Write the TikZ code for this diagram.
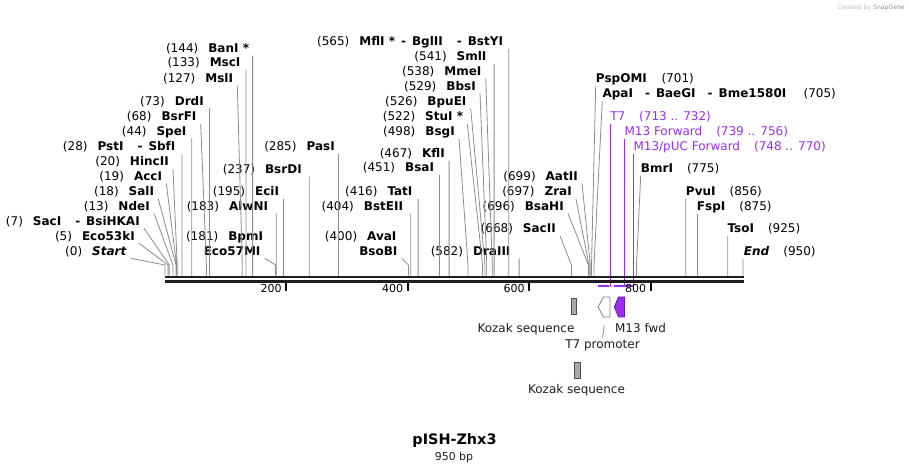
\documentclass[tikz,border=0pt]{standalone}
\usepackage{fontspec}
\setmainfont{DejaVu Sans}
\usepackage{tikz}
\definecolor{primer}{RGB}{157,44,238}
\definecolor{primerline}{RGB}{105,25,175}
\definecolor{cutgray}{RGB}{140,140,140}
\definecolor{kozakgray}{RGB}{166,168,172}
\definecolor{spine}{RGB}{30,30,30}
\newcommand{\lgap}{\hspace{7.5pt}}
\newcommand{\rgap}{\hspace{10.5pt}}

\begin{document}
\begin{tikzpicture}[x=0.75pt,y=-0.75pt,font=\fontsize{9}{10}\selectfont]
\tikzstyle{lsite}=[anchor=east, inner xsep=3pt, inner ysep=0.6pt, text height=6.8pt, text depth=1.6pt]
\tikzstyle{rsite}=[anchor=west, inner xsep=0pt, inner ysep=0.6pt, text height=6.8pt, text depth=1.6pt]
\tikzstyle{oligo}=[rsite, text=primer]
\tikzstyle{cut}=[draw=cutgray, line width=0.6pt]
\tikzstyle{oligoline}=[draw=primer, line width=1pt]
\tikzstyle{feature}=[inner sep=1pt, text=spine]
\tikzstyle{tick}=[inner sep=1pt, anchor=east, font=\fontsize{8.3}{9}\selectfont]

\useasboundingbox (0,0) rectangle (909,473);

% sites on the map, 0..950 bp
\coordinate (bbtop) at (0,275.6);
\coordinate (s0) at (165,265);     \coordinate (s5) at (168,265);     \coordinate (s7) at (169.3,265);
\coordinate (s13) at (172.9,265);  \coordinate (s18) at (176,265);    \coordinate (s19) at (176.6,265);
\coordinate (s20) at (177.2,265);  \coordinate (s28) at (182,265);    \coordinate (s44) at (191.8,265);
\coordinate (s68) at (206.4,265);  \coordinate (s73) at (209.4,265);  \coordinate (s127) at (242.3,265);
\coordinate (s133) at (245.9,265); \coordinate (s144) at (252.6,265); \coordinate (s181) at (275.6,265);
\coordinate (s183) at (276.3,265); \coordinate (s195) at (283.6,265); \coordinate (s237) at (309.2,265);
\coordinate (s285) at (338.4,265); \coordinate (s400) at (408.4,265); \coordinate (s404) at (410.8,265);
\coordinate (s416) at (418.1,265); \coordinate (s451) at (439.4,265); \coordinate (s467) at (449.1,265);
\coordinate (s498) at (468,265);   \coordinate (s522) at (482.6,265); \coordinate (s526) at (485,265);
\coordinate (s529) at (486.8,265); \coordinate (s538) at (492.3,265); \coordinate (s541) at (494.1,265);
\coordinate (s565) at (508.7,265); \coordinate (s582) at (519.1,265); \coordinate (s668) at (571.4,265);
\coordinate (s696) at (588.4,265); \coordinate (s697) at (589,265);   \coordinate (s699) at (590.3,265);
\coordinate (s701) at (591.5,265); \coordinate (s705) at (594,265);   \coordinate (s775) at (636.5,265);
\coordinate (s856) at (685.8,265); \coordinate (s875) at (697.4,265); \coordinate (s925) at (727.8,265);
\coordinate (s950) at (743,265);
\coordinate (p732) at (610.3,287); \coordinate (p756) at (624.3,287); \coordinate (p770) at (633.3,287);

% enzymes, left side
\node[lsite] (Start) at (131,251.7) {(0)\lgap\textbf{\textit{Start}}};
\node[lsite] (Eco53kI) at (139,236.7) {(5)\lgap\textbf{Eco53kI}};
\node[lsite] (SacI) at (144,221.7) {(7)\lgap\textbf{SacI\rgap-\enspace BsiHKAI}};
\node[lsite] (NdeI) at (154,206.7) {(13)\lgap\textbf{NdeI}};
\node[lsite] (SalI) at (158.3,192.3) {(18)\lgap\textbf{SalI}};
\node[lsite] (AccI) at (166.3,176.7) {(19)\lgap\textbf{AccI}};
\node[lsite] (HincII) at (173,162.3) {(20)\lgap\textbf{HincII}};
\node[lsite] (PstI) at (179.7,147.3) {(28)\lgap\textbf{PstI\rgap-\enspace SbfI}};
\node[lsite] (SpeI) at (190.7,131.7) {(44)\lgap\textbf{SpeI}};
\node[lsite] (BsrFI) at (200.7,117.3) {(68)\lgap\textbf{BsrFI}};
\node[lsite] (DrdI) at (208,101.7) {(73)\lgap\textbf{DrdI}};
\node[lsite] (MslI) at (237.3,79) {(127)\lgap\textbf{MslI}};
\node[lsite] (MscI) at (244.7,63.3) {(133)\lgap\textbf{MscI}};
\node[lsite] (BanI) at (253.3,49) {(144)\lgap\textbf{BanI *}};
\node[lsite] (BpmI) at (267.3,236.7) {(181)\lgap\textbf{BpmI}};
\node[lsite] (Eco57MI) at (264.7,251.7) {\textbf{Eco57MI}};
\node[lsite] (AlwNI) at (272.3,206.7) {(183)\lgap\textbf{AlwNI}};
\node[lsite] (EciI) at (283.3,192.3) {(195)\lgap\textbf{EciI}};
\node[lsite] (BsrDI) at (306,170) {(237)\lgap\textbf{BsrDI}};
\node[lsite] (PasI) at (339,147.3) {(285)\lgap\textbf{PasI}};
\node[lsite] (AvaI) at (400.7,236.7) {(400)\lgap\textbf{AvaI}};
\node[lsite] (BsoBI) at (401.7,251.7) {\textbf{BsoBI}};
\node[lsite] (BstEII) at (407.3,206.7) {(404)\lgap\textbf{BstEII}};
\node[lsite] (TatI) at (416.7,192.3) {(416)\lgap\textbf{TatI}};
\node[lsite] (BsaI) at (438.3,168.3) {(451)\lgap\textbf{BsaI}};
\node[lsite] (KflI) at (449,154) {(467)\lgap\textbf{KflI}};
\node[lsite] (BsgI) at (459,131.7) {(498)\lgap\textbf{BsgI}};
\node[lsite] (StuI) at (467.3,117.3) {(522)\lgap\textbf{StuI *}};
\node[lsite] (BpuEI) at (470.7,101.7) {(526)\lgap\textbf{BpuEI}};
\node[lsite] (BbsI) at (480,86.7) {(529)\lgap\textbf{BbsI}};
\node[lsite] (MmeI) at (485.7,71.7) {(538)\lgap\textbf{MmeI}};
\node[lsite] (SmlI) at (490.7,57.3) {(541)\lgap\textbf{SmlI}};
\node[lsite] (MflI) at (507.3,42.3) {(565)\lgap\textbf{MflI *\enspace-\enspace BglII\rgap-\enspace BstYI}};
\node[lsite] (DraIII) at (514.7,251.7) {(582)\lgap\textbf{DraIII}};
\node[lsite] (SacII) at (560,229) {(668)\lgap\textbf{SacII}};
\node[lsite] (BsaHI) at (568,206.7) {(696)\lgap\textbf{BsaHI}};
\node[lsite] (ZraI) at (576,192.3) {(697)\lgap\textbf{ZraI}};
\node[lsite] (AatII) at (582,176.7) {(699)\lgap\textbf{AatII}};

% enzymes and primers, right side
\node[rsite] (PspOMI) at (595.7,79) {\textbf{PspOMI}\hspace{11pt}(701)};
\node[rsite] (ApaI) at (602.3,94) {\textbf{ApaI\hspace{9pt}-\enspace BaeGI\hspace{9pt}-\enspace Bme1580I}\hspace{13pt}(705)};
\node[oligo] (T7) at (610,117.3) {T7\rgap(713 .. 732)};
\node[oligo] (M13F) at (624.3,132) {M13 Forward\rgap(739 .. 756)};
\node[oligo] (M13pUC) at (633.3,147) {M13/pUC Forward\rgap(748 .. 770)};
\node[rsite] (BmrI) at (640.7,169) {\textbf{BmrI}\rgap(775)};
\node[rsite] (PvuI) at (685.7,192) {\textbf{PvuI}\rgap(856)};
\node[rsite] (FspI) at (696.7,207) {\textbf{FspI}\rgap(875)};
\node[rsite] (TsoI) at (727.3,229.3) {\textbf{TsoI}\rgap(925)};
\node[rsite] (End) at (743.7,252.3) {\textbf{\textit{End}}\rgap(950)};

\draw[cut] (Start.south east) -- (s0) -- (s0 |- bbtop)
  (Eco53kI.south east) -- (s5) -- (s5 |- bbtop)
  (SacI.south east) -- (s7) -- (s7 |- bbtop)
  (NdeI.south east) -- (s13) -- (s13 |- bbtop)
  (SalI.south east) -- (s18) -- (s18 |- bbtop)
  (AccI.south east) -- (s19) -- (s19 |- bbtop)
  (HincII.south east) -- (s20) -- (s20 |- bbtop)
  (PstI.south east -| s28) -- (s28 |- bbtop)
  (SpeI.south east -| s44) -- (s44 |- bbtop)
  (BsrFI.south east) -- (s68) -- (s68 |- bbtop)
  (DrdI.south east -| s73) -- (s73 |- bbtop)
  (MslI.south east) -- (s127) -- (s127 |- bbtop)
  (MscI.south east -| s133) -- (s133 |- bbtop)
  (BanI.south east -| s144) -- (s144 |- bbtop)
  (Eco57MI.south east) -- (s181) -- (s181 |- bbtop)
  (AlwNI.south east -| s183) -- (s183 |- bbtop)
  (EciI.south east -| s195) -- (s195 |- bbtop)
  (BsrDI.south east -| s237) -- (s237 |- bbtop)
  (PasI.south east -| s285) -- (s285 |- bbtop)
  (BsoBI.south east) -- (s400) -- (s400 |- bbtop)
  (BstEII.south east -| s404) -- (s404 |- bbtop)
  (TatI.south east -| s416) -- (s416 |- bbtop)
  (BsaI.south east -| s451) -- (s451 |- bbtop)
  (KflI.south east -| s467) -- (s467 |- bbtop)
  (BsgI.south east) -- (s498) -- (s498 |- bbtop)
  (StuI.south east) -- (s522) -- (s522 |- bbtop)
  (BpuEI.south east) -- (s526) -- (s526 |- bbtop)
  (BbsI.south east) -- (s529) -- (s529 |- bbtop)
  (MmeI.south east) -- (s538) -- (s538 |- bbtop)
  (SmlI.south east -| s541) -- (s541 |- bbtop)
  (MflI.south east -| s565) -- (s565 |- bbtop)
  (DraIII.south east -| s582) -- (s582 |- bbtop)
  (SacII.south east) -- (s668) -- (s668 |- bbtop)
  (BsaHI.south east) -- (s696) -- (s696 |- bbtop)
  (ZraI.south east) -- (s697) -- (s697 |- bbtop)
  (AatII.south east) -- (s699) -- (s699 |- bbtop)
  (PspOMI.south west) -- (s701) -- (s701 |- bbtop)
  (ApaI.south west) -- (s705) -- (s705 |- bbtop)
  (BmrI.south west) -- (s775) -- (s775 |- bbtop)
  (PvuI.south west -| s856) -- (s856 |- bbtop)
  (FspI.south west -| s875) -- (s875 |- bbtop)
  (TsoI.south west -| s925) -- (s925 |- bbtop)
  (End.south west -| s950) -- (s950 |- bbtop);

\draw[oligoline] (T7.south west -| p732) -- (p732)
  (M13F.south west -| p756) -- (p756)
  (M13pUC.south west -| p770) -- (p770);
\draw[primer, line width=1.5pt] (598.3,286) -- (609,286) (614,286) -- (633.3,286);

% backbone and ruler
\draw[spine, line width=2.2pt] (165,277) -- (744,277);
\draw[spine, line width=2.2pt] (165,281.8) -- (744,281.8);
\foreach \p/\x in {200/286,400/407.5,600/529,800/650.5}{
  \draw[line width=1.5pt] (\x,283.5) -- (\x,291);
  \node[tick] (tk\p) at (\x-2.7,288.5) {\p};
}

% features
\draw[draw=spine!80, fill=kozakgray, line width=0.6pt] (571.7,298.3) rectangle (576.7,314.3);
\draw[draw=gray, fill=white, line width=0.6pt] (610,297) -- (603.5,297) -- (598,307) -- (603.5,317) -- (610,317) -- cycle;
\draw[draw=primerline, fill=primer, line width=0.6pt] (624.5,297) -- (618.5,297) -- (614.3,307) -- (618.5,317) -- (624.5,317) -- cycle;
\draw[draw=spine!80, fill=kozakgray, line width=0.6pt] (574.3,362.7) rectangle (580.3,378.3);
\node[feature, anchor=east] (koz1) at (576,329) {Kozak sequence};
\node[feature, anchor=west] (m13fwd) at (613.5,328.3) {M13 fwd};
\node[feature] (t7prom) at (602.5,345) {T7 promoter};
\coordinate (t7tip) at (604.3,325.7);
\draw[cut] (t7tip) -- (t7prom.north);
\node[feature] (koz2) at (576.5,390) {Kozak sequence};

% title
\node[font=\fontsize{10.8}{12}\bfseries\selectfont] (title) at (454.5,441) {pISH-Zhx3};
\node[font=\fontsize{8.2}{10}\selectfont, text=spine] (size) at (454,457) {950 bp};
\node[anchor=east, inner sep=0pt, font=\fontsize{4.6}{5}\selectfont, text=gray!55] (mark) at (905,7.5) {Created by \textcolor{gray!85}{SnapGene}};
\end{tikzpicture}
\end{document}
